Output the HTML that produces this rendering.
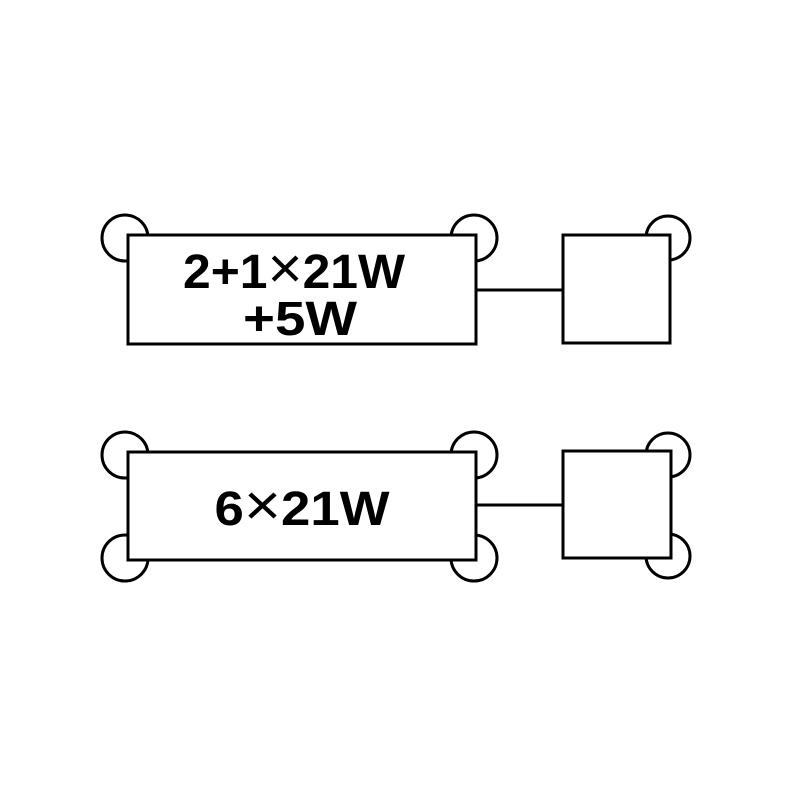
<!DOCTYPE html>
<html><head><style>html,body{margin:0;padding:0;background:#fff}</style></head>
<body>
<svg width="800" height="800" viewBox="0 0 800 800" xmlns="http://www.w3.org/2000/svg">
<g fill="none" stroke="#000" stroke-width="3">
<circle cx="125" cy="238" r="23"/>
<circle cx="474" cy="238" r="23"/>
<circle cx="668" cy="238" r="22"/>
<circle cx="125" cy="455" r="23"/>
<circle cx="474" cy="455" r="23"/>
<circle cx="125" cy="558" r="23"/>
<circle cx="474" cy="558" r="23"/>
<circle cx="668" cy="455" r="22"/>
<circle cx="668" cy="556" r="22"/>
<line x1="476" y1="290" x2="563" y2="290"/>
<line x1="476" y1="505" x2="563" y2="505"/>
</g>
<g fill="#fff" stroke="#000" stroke-width="3">
<rect x="128" y="235" width="348" height="109"/>
<rect x="563" y="235" width="107" height="108"/>
<rect x="128" y="452" width="348" height="108"/>
<rect x="563" y="451" width="108" height="107"/>
</g>
<g font-family="Liberation Sans, sans-serif" font-weight="bold" font-size="48" text-anchor="middle" fill="#000">
<text x="294" y="288" textLength="222" lengthAdjust="spacingAndGlyphs">2+1<tspan font-weight="normal" font-size="58">×</tspan>21W</text>
<text x="300" y="335" textLength="114" lengthAdjust="spacingAndGlyphs">+5W</text>
<text x="302" y="525" textLength="175" lengthAdjust="spacingAndGlyphs">6<tspan font-weight="normal" font-size="58">×</tspan>21W</text>
</g>
</svg>
</body></html>
